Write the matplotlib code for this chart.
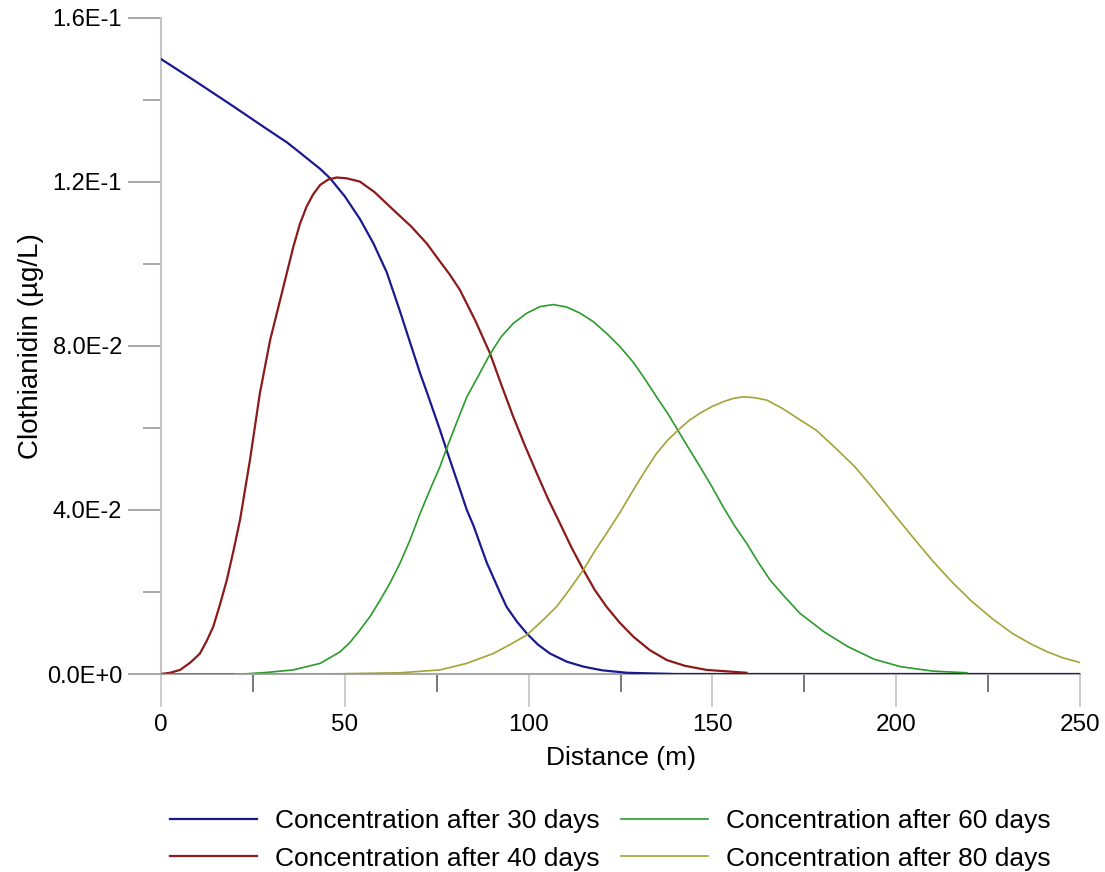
"""Clothianidin concentration profiles along distance
for several times after application"""

import matplotlib
matplotlib.use("Agg")
import matplotlib.pyplot as plt
from matplotlib.ticker import MultipleLocator

plt.rcParams['font.family'] = ['Liberation Sans', 'DejaVu Sans']

# values (distance in m, concentration in ug/L)
x_30 = [0, 10, 19.6, 28, 34.2, 36.9, 40.5, 43.3, 46, 50, 54.1, 57.8, 61.4,
        65.0, 66.8, 70.5, 72.3, 75.9, 77.7, 80.5, 83.2, 85, 88.6, 92.2,
        94.0, 96.8, 99.5, 102.5, 105.8, 110.4, 114.9, 120, 126.7, 140, 250]
y_30 = [0.150, 0.1442, 0.1385, 0.1334, 0.1297, 0.1278, 0.1252, 0.1232,
        0.1209, 0.1165, 0.1110, 0.1050, 0.0980, 0.0885, 0.0835, 0.0733,
        0.0688, 0.0595, 0.0546, 0.0472, 0.0400, 0.0362, 0.0272, 0.0199,
        0.0164, 0.0128, 0.0099, 0.0072, 0.0050, 0.0030, 0.0018, 0.0009,
        0.0003, 0.0, 0.0]

x_40 = [0, 2.5, 5.2, 8, 10.6, 12.4, 14.2, 16, 17.9, 19.7, 21.5, 24.2, 26.9,
        29.7, 32.4, 36.0, 37.8, 39.6, 41.4, 43.3, 45.5, 47.8, 50.5, 54.1,
        58, 63.2, 68, 72.3, 75.9, 78.5, 81.3, 85.5, 89.5, 92.6, 95.8, 99,
        102.2, 105.3, 108.5, 111.7, 114.9, 118, 121.2, 124.8, 128.5, 133,
        137.6, 142.5, 148.4, 159.3]
y_40 = [0.0, 0.0003, 0.0010, 0.0028, 0.0050, 0.0080, 0.0115, 0.0168,
        0.0229, 0.0300, 0.0376, 0.0522, 0.0685, 0.0815, 0.0912, 0.1042,
        0.1098, 0.1140, 0.1170, 0.1193, 0.1206, 0.1211, 0.1209, 0.1201,
        0.1176, 0.1132, 0.1092, 0.1050, 0.1006, 0.0975, 0.0937, 0.0862,
        0.0782, 0.0705, 0.0628, 0.0557, 0.0490, 0.0427, 0.0368, 0.0308,
        0.0254, 0.0205, 0.0164, 0.0125, 0.0091, 0.0058, 0.0034, 0.0020,
        0.0010, 0.0003]

x_60 = [0, 22.4, 29, 36, 43.3, 48.7, 51.5, 54.1, 57, 59.6, 62.3, 65, 67.8,
        70.5, 73.2, 75.9, 77.7, 80.5, 83.2, 86.5, 89.5, 92.5, 95.8, 99.5,
        103.1, 106.7, 110.4, 114, 117.5, 121.2, 125, 128.5, 131.6, 134.8,
        137.8, 140.7, 143.6, 146.6, 149.8, 152.9, 156, 159.3, 162.5, 165.7,
        169.5, 173.8, 180.5, 186.8, 194, 201.1, 210, 219.2]
y_60 = [0.0, 0.0, 0.0004, 0.0010, 0.0026, 0.0054, 0.0078, 0.0107, 0.0142,
        0.0180, 0.0222, 0.0270, 0.0328, 0.0392, 0.0450, 0.0506, 0.0550,
        0.0615, 0.0676, 0.0730, 0.0780, 0.0822, 0.0855, 0.0880, 0.0896,
        0.0901, 0.0895, 0.0880, 0.0860, 0.0831, 0.0797, 0.0760, 0.0720,
        0.0676, 0.0636, 0.0593, 0.0550, 0.0506, 0.0458, 0.0408, 0.0362,
        0.0319, 0.0272, 0.0229, 0.0190, 0.0148, 0.0102, 0.0067, 0.0036,
        0.0018, 0.0007, 0.0003]

x_80 = [20, 45, 65, 75.9, 83.2, 90.4, 95, 99.5, 103.5, 107.6, 111.2, 114.9,
        118, 121.2, 125, 128.5, 131.6, 134.8, 137.8, 140.7, 143.6, 146.6,
        149.8, 152.9, 155.6, 158.4, 161.5, 164.8, 169, 173.8, 178.2, 183.4,
        188.7, 194, 199.2, 204.5, 209.7, 215, 220.2, 226, 231.6, 236.5,
        241.1, 245.5, 250]
y_80 = [0.0, 0.0, 0.0003, 0.0010, 0.0026, 0.0050, 0.0072, 0.0095, 0.0128,
        0.0164, 0.0207, 0.0254, 0.0300, 0.0343, 0.0396, 0.0449, 0.0494,
        0.0538, 0.0570, 0.0595, 0.0618, 0.0636, 0.0652, 0.0664, 0.0672,
        0.0676, 0.0674, 0.0668, 0.0648, 0.0620, 0.0595, 0.0552, 0.0506,
        0.0450, 0.0392, 0.0334, 0.0278, 0.0226, 0.0180, 0.0136, 0.0099,
        0.0074, 0.0054, 0.0039, 0.0028]

labels = ['Concentration after 30 days', 'Concentration after 40 days',
          'Concentration after 60 days', 'Concentration after 80 days']
colors = ['#1a1a90', '#8b1a1a', '#2b9b2b', '#a3a336']

y_ticks = [0.0, 0.04, 0.08, 0.12, 0.16]
y_tick_labels = ['0.0E+0', '4.0E-2', '8.0E-2', '1.2E-1', '1.6E-1']
x_ticks = [0, 50, 100, 150, 200, 250]


fig = plt.figure(figsize=(11.05, 8.72), dpi=100)
ax = fig.add_axes([161 / 1105, 198 / 872, 919 / 1105, 656 / 872])

l30, = ax.plot(x_30, y_30, color=colors[0], lw=1.6, zorder=3)
l40, = ax.plot(x_40, y_40, color=colors[1], lw=1.6, zorder=4)
l60, = ax.plot(x_60, y_60, color=colors[2], lw=1.2, zorder=5)
l80, = ax.plot(x_80, y_80, color=colors[3], lw=1.2, zorder=6)

ax.set_xlim(0, 250)
ax.set_ylim(0, 0.16)

for side in ['top', 'right']:
    ax.spines[side].set_visible(False)
ax.spines['left'].set_color('#c4c4c4')
ax.spines['left'].set_linewidth(1.5)
ax.spines['bottom'].set_color('#a8a8a8')
ax.spines['bottom'].set_linewidth(1.5)

ax.set_yticks(y_ticks)
ax.set_yticklabels(y_tick_labels)
ax.yaxis.set_minor_locator(MultipleLocator(0.02))
ax.set_xticks(x_ticks)
ax.xaxis.set_minor_locator(MultipleLocator(25))

ax.tick_params(axis='y', which='major', length=24, width=1.2,
               color='#9a9a9a', labelsize=17, pad=4)
ax.tick_params(axis='y', which='minor', length=13, width=1.2,
               color='#9a9a9a')
ax.tick_params(axis='x', which='major', length=24, width=1.2,
               color='#c4c4c4', labelsize=17.5, pad=5)
ax.tick_params(axis='x', which='minor', length=13, width=1.2,
               color='#606060')

ax.set_ylabel('Clothianidin (µg/L)', fontsize=20, labelpad=2)
ax.set_xlabel('Distance (m)', fontsize=19, labelpad=7)

fig.legend([l30, l40, l60, l80], labels, ncol=2, frameon=False,
           fontsize=19, loc='upper left',
           bbox_to_anchor=(170 / 1105, 1 - 809 / 872),
           handlelength=3.3, handletextpad=0.68, columnspacing=0.8,
           labelspacing=0.52, borderaxespad=0, borderpad=0)

plt.savefig('out.png', dpi=100)
plt.close()
